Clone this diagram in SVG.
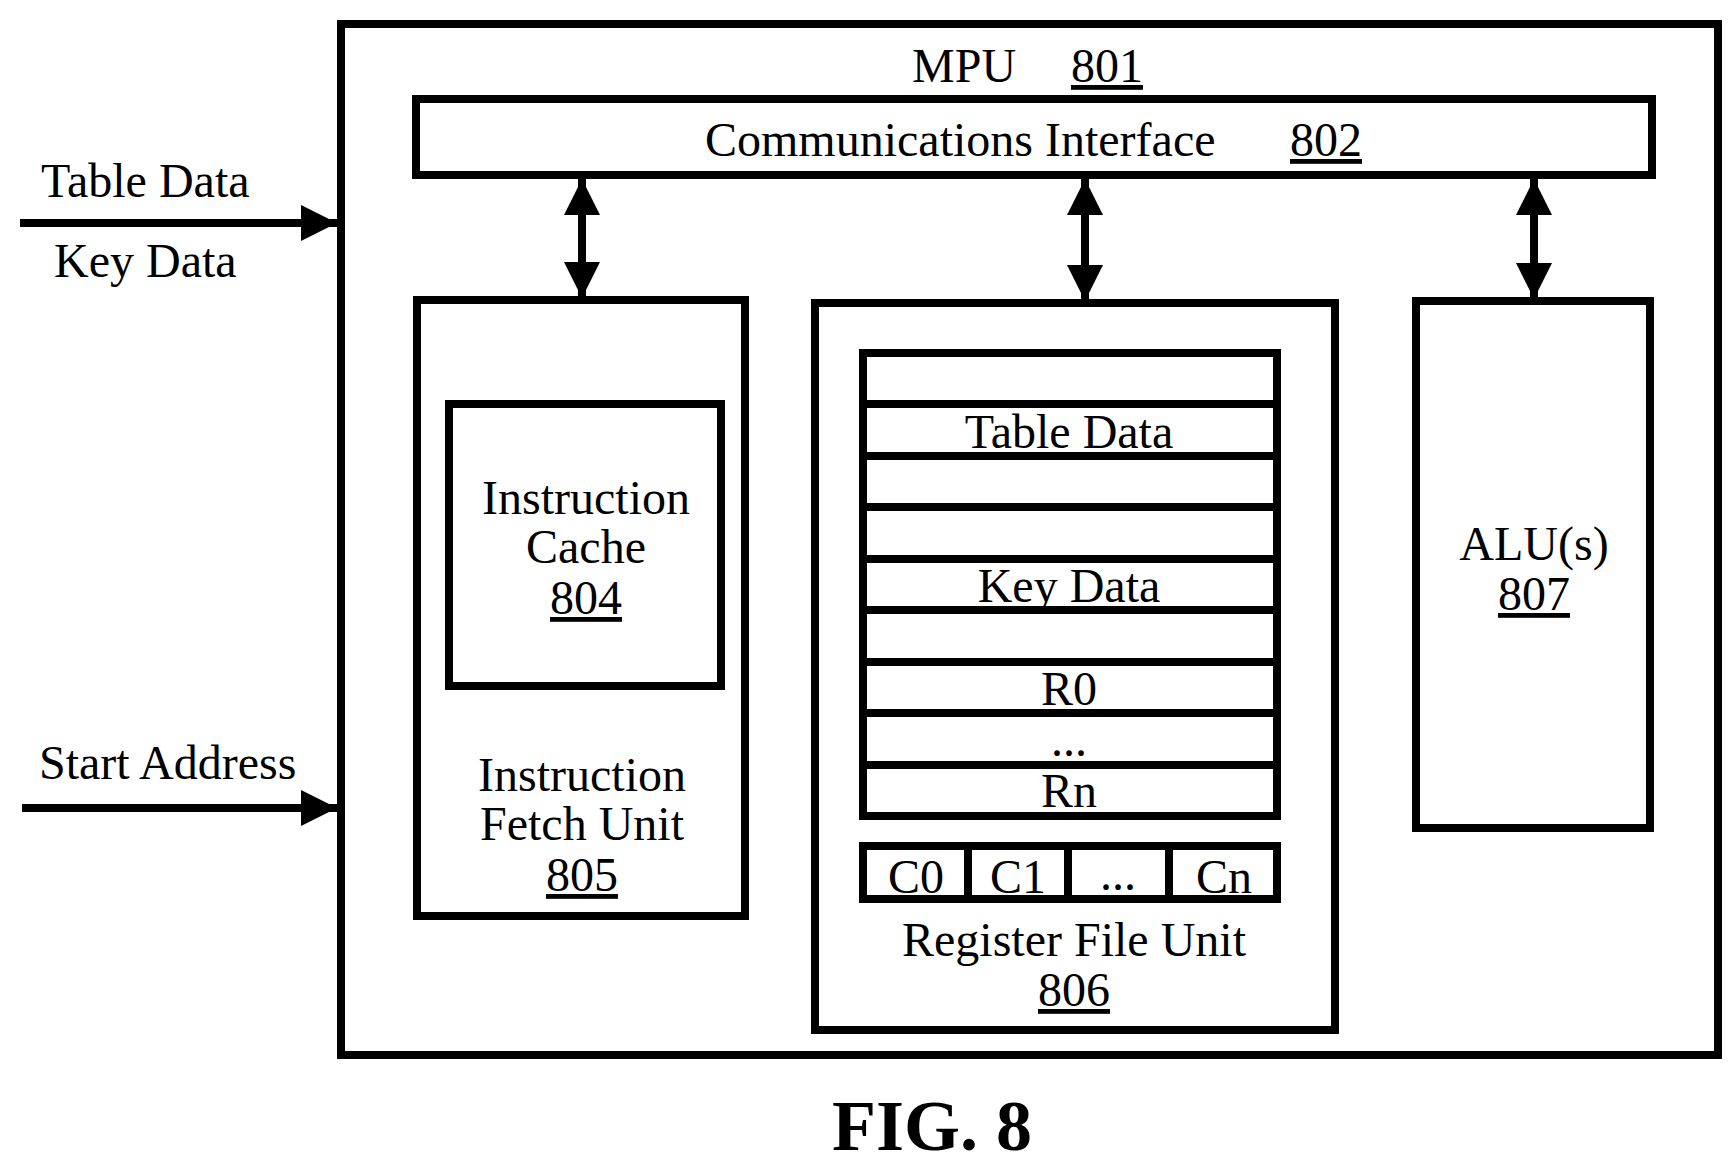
<svg xmlns="http://www.w3.org/2000/svg" width="1731" height="1164" viewBox="0 0 1731 1164">
<style>
.b{fill:none;stroke:#000;stroke-width:8}
.t{font-family:"Liberation Serif",serif;font-size:48px;fill:#000}
.m{text-anchor:middle}
.l{stroke:#000;stroke-width:8}
</style>
<defs>
<marker id="ah" viewBox="0 0 10 10" refX="10" refY="5" markerWidth="5.5" markerHeight="4.5" markerUnits="strokeWidth" orient="auto-start-reverse"><path d="M0,0L10,5L0,10z" fill="#000"/></marker>
</defs>
<rect width="1731" height="1164" fill="#fff"/>
<g id="mpu">
<rect class="b" x="341" y="24" width="1377" height="1031"/>
<text class="t" x="912" y="82">MPU</text>
<text class="t" x="1071" y="82" text-decoration="underline">801</text>
</g>
<g id="comm">
<rect class="b" x="416" y="99" width="1236" height="76"/>
<text class="t" x="705" y="156">Communications Interface</text>
<text class="t" x="1290" y="156" text-decoration="underline">802</text>
</g>
<g id="ifu">
<rect class="b" x="417" y="300" width="328" height="616"/>
<text class="t m" x="582" y="791">Instruction</text>
<text class="t m" x="582" y="840">Fetch Unit</text>
<text class="t m" x="582" y="891" text-decoration="underline">805</text>
</g>
<g id="icache">
<rect class="b" x="449" y="404" width="272" height="282"/>
<text class="t m" x="586" y="514">Instruction</text>
<text class="t m" x="586" y="563">Cache</text>
<text class="t m" x="586" y="614" text-decoration="underline">804</text>
</g>
<g id="rfu">
<rect class="b" x="815" y="303" width="520" height="727"/>
<rect class="b" x="863" y="353" width="414" height="463"/>
<path class="l" d="M863,404H1277M863,456H1277M863,507H1277M863,559H1277M863,610H1277M863,662H1277M863,713H1277M863,765H1277"/>
<text class="t m" x="1069" y="448">Table Data</text>
<text class="t m" x="1069" y="602">Key Data</text>
<text class="t m" x="1069" y="705">R0</text>
<text class="t m" x="1069" y="756">...</text>
<text class="t m" x="1069" y="807">Rn</text>
<rect class="b" x="863" y="846" width="414" height="53"/>
<path class="l" d="M968,846V899M1068,846V899M1169,846V899"/>
<text class="t m" x="916" y="893">C0</text>
<text class="t m" x="1018" y="893">C1</text>
<text class="t m" x="1118" y="890">...</text>
<text class="t m" x="1224" y="893">Cn</text>
<text class="t m" x="1074" y="956">Register File Unit</text>
<text class="t m" x="1074" y="1006" text-decoration="underline">806</text>
</g>
<g id="alu">
<rect class="b" x="1416" y="301" width="234" height="527"/>
<text class="t m" x="1534" y="560">ALU(s)</text>
<text class="t m" x="1534" y="610" text-decoration="underline">807</text>
</g>
<g id="inputs">
<text class="t" x="41" y="197">Table Data</text>
<text class="t" x="54" y="277">Key Data</text>
<text class="t" x="39" y="779">Start Address</text>
</g>
<g id="connectors">
<line class="l" x1="20" y1="223" x2="337" y2="223" marker-end="url(#ah)"/>
<line class="l" x1="22" y1="808" x2="337" y2="808" marker-end="url(#ah)"/>
<line class="l" x1="582" y1="179" x2="582" y2="298" marker-start="url(#ah)" marker-end="url(#ah)"/>
<line class="l" x1="1085" y1="179" x2="1085" y2="301" marker-start="url(#ah)" marker-end="url(#ah)"/>
<line class="l" x1="1534" y1="179" x2="1534" y2="299" marker-start="url(#ah)" marker-end="url(#ah)"/>
</g>
<text x="932" y="1150" text-anchor="middle" style="font-family:'Liberation Serif',serif;font-size:72px;font-weight:bold">FIG. 8</text>
</svg>
